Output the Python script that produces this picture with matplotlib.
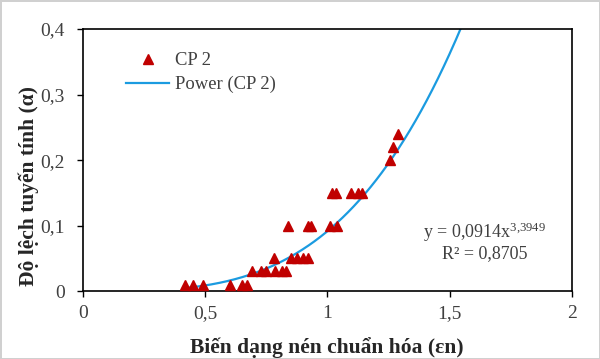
import numpy as np
import matplotlib.pyplot as plt

plt.rcParams['font.family'] = ['Liberation Serif', 'DejaVu Serif']
plt.rcParams['mathtext.fontset'] = 'custom'
plt.rcParams['mathtext.rm'] = 'Liberation Serif'

# CP 2 data points (normalized compressive strain, linear deviation)
strain = [0.42, 0.45, 0.49, 0.60, 0.65, 0.67,
          0.69, 0.73, 0.75, 0.785, 0.815, 0.83,
          0.78, 0.85, 0.875, 0.90, 0.92,
          0.84, 0.92, 0.935, 1.01, 1.04,
          1.02, 1.035, 1.095, 1.125, 1.14,
          1.255, 1.27, 1.29]
deviation = [0.01, 0.01, 0.01, 0.01, 0.01, 0.01,
             0.03, 0.03, 0.03, 0.03, 0.03, 0.03,
             0.05, 0.05, 0.05, 0.05, 0.05,
             0.10, 0.10, 0.10, 0.10, 0.10,
             0.15, 0.15, 0.15, 0.15, 0.15,
             0.20, 0.22, 0.24]

# Power trendline parameters (Excel)
coef_a = 0.0914
coef_b = 3.3949

fig = plt.figure(figsize=(6, 3.59), dpi=100)
fig.patch.set_edgecolor('#d0d0d0')
fig.patch.set_linewidth(2)
ax = fig.add_axes([0.138, 0.189, 0.815, 0.730])

ax.plot(strain, deviation, linestyle='none', marker='^', markersize=7,
        color='#C00000', label='CP 2', zorder=3)

xs = np.linspace(min(strain) - 0.005, 1.56, 300)
ax.plot(xs, coef_a * xs ** coef_b, color='#1B9BE0', linewidth=1.6,
        label='Power (CP 2)', zorder=2)

ax.set_xlim(0, 2)
ax.set_ylim(0, 0.4)
ax.set_xticks([0, 0.5, 1, 1.5, 2])
ax.set_xticklabels(['0', '0,5', '1', '1,5', '2'])
ax.set_yticks([0, 0.1, 0.2, 0.3, 0.4])
ax.set_yticklabels(['0', '0,1', '0,2', '0,3', '0,4'])
ax.tick_params(direction='out', length=4, width=1, labelsize=14,
               labelcolor='#404040')
ax.tick_params(axis='x', pad=6)
ax.tick_params(axis='y', pad=9)
for s in ax.spines.values():
    s.set_linewidth(1.2)
    s.set_color('black')

ax.set_xlabel('Biến dạng nén chuẩn hóa (εn)', fontsize=15.5, fontweight='bold',
              color='#262626')
ax.xaxis.set_label_coords(0.5, -0.175)
ax.set_ylabel('Độ lệch tuyến tính (α)', fontsize=15.5, fontweight='bold',
              color='#262626')
ax.yaxis.set_label_coords(-0.09, 0.40)

ax.legend(loc='upper left', bbox_to_anchor=(0.055, 0.975), frameon=False,
          fontsize=13.4, handlelength=2.3, handletextpad=0.3, labelspacing=0.35,
          labelcolor='#404040')

ax.text(0.822, 0.19, 'y = 0,0914x$\\mathregular{^{3{,}3949}}$\nR² = 0,8705',
        transform=ax.transAxes, ha='center', va='center', fontsize=13,
        color='#404040', linespacing=1.15)

fig.savefig('out.png', dpi=100)
